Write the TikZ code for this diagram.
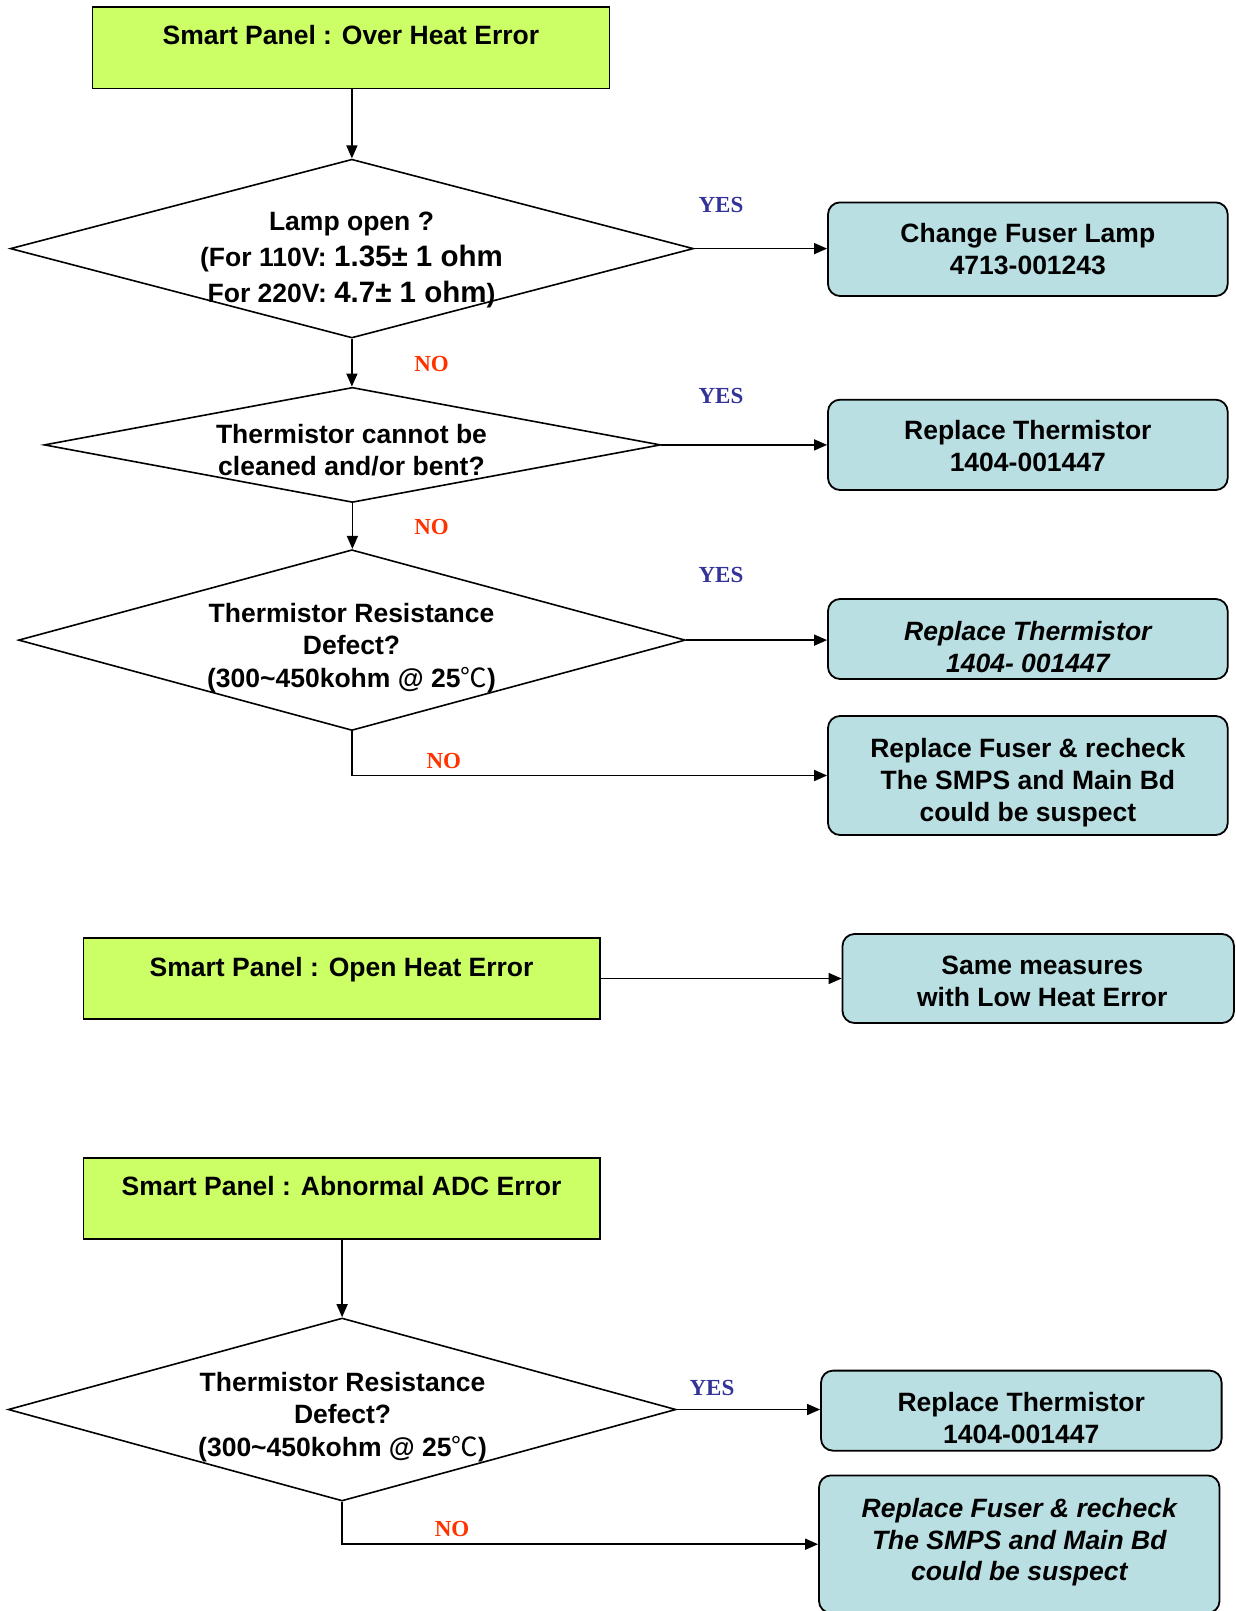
\documentclass[tikz,border=0pt]{standalone}
\usepackage{fontspec}
\setmainfont{Liberation Sans}
\newfontfamily\tnr{Liberation Serif}
\newfontfamily\cjkf{Noto Sans CJK SC}
\usetikzlibrary{arrows.meta,shapes.geometric}
\definecolor{limeF}{RGB}{204,255,102}
\definecolor{cyanF}{RGB}{186,223,227}
\definecolor{yesC}{RGB}{51,51,153}
\definecolor{noC}{RGB}{255,51,0}
\newcommand{\degC}{{\cjkf\mdseries ℃}}
\tikzset{
  gbox/.style={draw, line width=1.4pt, fill=limeF, inner sep=0pt},
  cbox/.style={draw, line width=1.8pt, fill=cyanF, rounded corners=12pt, inner sep=0pt},
  dia/.style={draw, line width=1.6pt, diamond, inner sep=0pt},
  txt/.style={inner sep=0pt, align=center, font=\bfseries\fontsize{26.5}{31.8}\selectfont},
  itxt/.style={txt, font=\bfseries\itshape\fontsize{26.5}{31.8}\selectfont},
  yeslbl/.style={inner sep=0pt, text=yesC, font=\tnr\bfseries\fontsize{23}{27}\selectfont},
  nolbl/.style={inner sep=0pt, text=noC, font=\tnr\bfseries\fontsize{23}{27}\selectfont},
  arr/.style={line width=1.5pt, -{Triangle[length=13pt,width=11pt]}}
}
\begin{document}
\begin{tikzpicture}[x=1pt,y=-1pt]
\useasboundingbox[fill=white] (0,0) rectangle (1236,1611);
\clip (0,0) rectangle (1236,1611);

% ---------- Over Heat Error ----------
\node[gbox, minimum width=516.7pt, minimum height=81.2pt] (g1) at (350.85,47.8) {};
\node[txt] (tg1) at (351,35) {Smart Panel : Over Heat Error};

\node[dia, minimum width=683.2pt, minimum height=178.8pt] (d1) at (351.9,248.6) {};
\node[txt, font=\bfseries\fontsize{26.5}{36}\selectfont] (td1) at (351.5,260)
  {Lamp open ?\\(For 110V: {\fontsize{29.5}{36}\selectfont 1.35± 1 ohm}\\For 220V: {\fontsize{29.5}{36}\selectfont 4.7± 1 ohm})};

\node[cbox, minimum width=399.7pt, minimum height=93.6pt] (b1) at (1027.85,249.2) {};
\node[txt] (tb1) at (b1.center) {Change Fuser Lamp\\4713-001243};

\node[dia, minimum width=616.4pt, minimum height=115.1pt] (d2) at (352.4,444.9) {};
\node[txt] (td2) at (351.5,450.5) {Thermistor cannot be\\cleaned and/or bent?};

\node[cbox, minimum width=399.7pt, minimum height=90.3pt] (b2) at (1027.85,444.85) {};
\node[txt] (tb2) at ([yshift=-1pt]b2.center) {Replace Thermistor\\1404-001447};

\node[dia, minimum width=666.8pt, minimum height=180.8pt] (d3) at (351.9,640.1) {};
\node[txt, font=\bfseries\fontsize{26.5}{32.6}\selectfont] (td3) at (351.5,647.8)
  {Thermistor Resistance\\Defect?\\(300\textasciitilde 450kohm @ 25\degC)};

\node[cbox, minimum width=399.7pt, minimum height=80pt] (b3) at (1027.85,639) {};
\node[itxt] (tb3) at ([yshift=-8.2pt]b3.center) {Replace Thermistor\\1404- 001447};

\node[cbox, minimum width=399.7pt, minimum height=119pt] (b4) at (1027.85,775.5) {};
\node[txt] (tb4) at ([yshift=-7.2pt]b4.center)
  {Replace Fuser \& recheck\\The SMPS and Main Bd\\could be suspect};

\draw[arr] (d1.north |- g1.south) -- (d1.north);
\draw[arr] (d1.south) -- (d1.south |- d2.north);
\draw[arr] (d2.south) -- (d2.south |- d3.north);
\draw[arr] (d1.east) -- (d1.east -| b1.west);
\draw[arr] (d2.east) -- (d2.east -| b2.west);
\draw[arr] (d3.east) -- (d3.east -| b3.west);
\draw[arr] (d3.south) |- (b4.west);

\node[yeslbl] (y1) at (721,204.5) {YES};
\node[yeslbl] (y2) at (721,395.5) {YES};
\node[yeslbl] (y3) at (721,575.3) {YES};
\node[nolbl] (n1) at (431.5,363.7) {NO};
\node[nolbl] (n2) at (431.5,527) {NO};
\node[nolbl] (n3) at (443.8,761.3) {NO};

% ---------- Open Heat Error ----------
\node[gbox, minimum width=516.8pt, minimum height=81pt] (g2) at (341.6,978.5) {};
\node[txt] (tg2) at (341.6,969.8) {Smart Panel : Open Heat Error};
\node[cbox, minimum width=391.5pt, minimum height=89pt] (b5) at (1038.25,978.5) {};
\node[txt] (tb5) at ([xshift=4pt,yshift=-3pt]b5.center) {Same measures\\with Low Heat Error};
\draw[arr] (g2.east) -- (g2.east -| b5.west);

% ---------- Abnormal ADC Error ----------
\node[gbox, minimum width=516.8pt, minimum height=81pt] (g3) at (341.6,1198.5) {};
\node[txt] (tg3) at (341.6,1185.6) {Smart Panel : Abnormal ADC Error};

\node[dia, minimum width=667.8pt, minimum height=183pt] (d4) at (342.1,1409.5) {};
\node[txt, font=\bfseries\fontsize{26.5}{32.6}\selectfont] (td4) at (342.6,1416.8)
  {Thermistor Resistance\\Defect?\\(300\textasciitilde 450kohm @ 25\degC)};

\node[cbox, minimum width=400.6pt, minimum height=80.1pt] (b6) at (1021.3,1410.65) {};
\node[txt] (tb6) at ([yshift=-7.2pt]b6.center) {Replace Thermistor\\1404-001447};
\node[cbox, minimum width=400.5pt, minimum height=137.6pt] (b7) at (1019.25,1544.2) {};
\node[itxt] (tb7) at ([yshift=2pt]b7.center)
  {Replace Fuser \& recheck\\The SMPS and Main Bd\\could be suspect};

\draw[arr] (d4.north |- g3.south) -- (d4.north);
\draw[arr] (d4.east) -- (d4.east -| b6.west);
\draw[arr] (d4.south) |- (b7.west);

\node[yeslbl] (y4) at (712,1388) {YES};
\node[nolbl] (n4) at (452,1528.8) {NO};
\end{tikzpicture}
\end{document}
